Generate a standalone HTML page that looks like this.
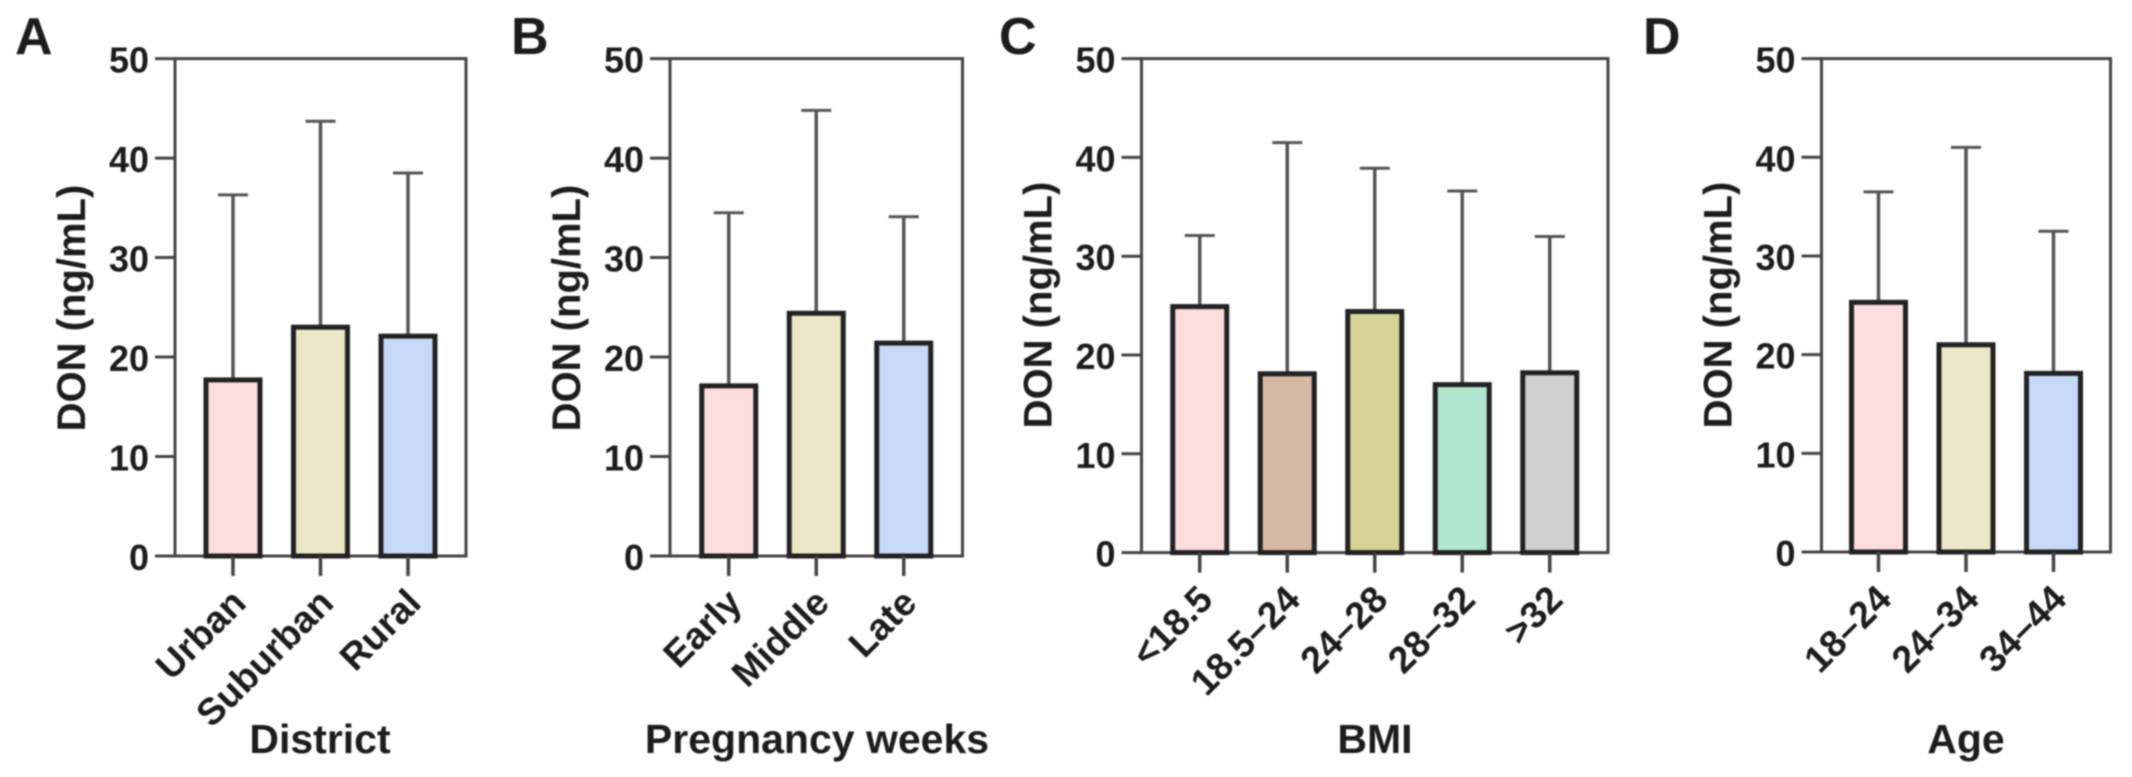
<!DOCTYPE html>
<html lang="en">
<head>
<meta charset="utf-8">
<title>DON by group</title>
<style>
html,body{margin:0;padding:0;background:#fff;width:2132px;height:777px;overflow:hidden}
svg{display:block;filter:blur(0.9px)}
text{font-family:"Liberation Sans",Arial,sans-serif;font-weight:bold;fill:#1c1c1c}
</style>
</head>
<body>
<svg id="chart" xmlns="http://www.w3.org/2000/svg" width="2132" height="777" viewBox="0 0 2132 777"></svg>
<script>
var yTickValues = [0, 10, 20, 30, 40, 50];

var districtCategories = ["Urban", "Suburban", "Rural"];
var districtMeans = [17.7, 23.0, 22.1];
var districtUpper = [36.3, 43.7, 38.5];

var weeksCategories = ["Early", "Middle", "Late"];
var weeksMeans = [17.1, 24.4, 21.4];
var weeksUpper = [34.5, 44.8, 34.1];

var bmiCategories = ["<18.5", "18.5–24", "24–28", "28–32", ">32"];
var bmiMeans = [24.9, 18.1, 24.4, 17.0, 18.2];
var bmiUpper = [32.1, 41.5, 38.9, 36.6, 32.0];

var ageCategories = ["18–24", "24–34", "34–44"];
var ageMeans = [25.3, 21.0, 18.1];
var ageUpper = [36.5, 41.0, 32.5];

var threeFills = ["#fddcde", "#ebe6c6", "#c5daf6"];
var fiveFills = ["#fddcde", "#d6b9a2", "#d5d496", "#b3e6d1", "#cfcfcf"];

var svg = document.getElementById('chart');
var NS = 'http://www.w3.org/2000/svg';

function mk(tag, attrs, parent) {
  var el = document.createElementNS(NS, tag);
  for (var k in attrs) el.setAttribute(k, attrs[k]);
  parent.appendChild(el);
  return el;
}

function drawPanel(p, categories, means, upper, fills) {
  var g = mk('g', {}, svg);
  
  

  var y = function (v) { return p.bottom - (v / 50) * (p.bottom - p.top); };
  var step = 87.5;
  var x = function (i) {
    return p.left + ((p.right - p.left) - (categories.length - 1) * step) / 2 + i * step;
  };
  var axisColor = '#444';

  var letter = mk('text', {x: p.letterX, y: 54, 'font-size': 52}, g);
  letter.textContent = p.letter;
  
  

  var frame = mk('rect', {x: p.left, y: p.top, width: p.right - p.left, height: p.bottom - p.top, fill: 'none', stroke: axisColor, 'stroke-width': 3}, g);
  
  

  yTickValues.forEach(function (v) {
    var tick = mk('line', {x1: p.left - 20, x2: p.left, y1: y(v), y2: y(v), stroke: axisColor, 'stroke-width': 3}, g);
    
    
    var lab = mk('text', {x: p.left - 26, y: y(v) + 14, 'font-size': 36, 'text-anchor': 'end'}, g);
    lab.textContent = v;
    
    
  });

  var yTitle = mk('text', {transform: 'translate(' + (p.left - 90) + ',' + p.yTitleY + ') rotate(-90)', 'font-size': 40, 'text-anchor': 'middle'}, g);
  yTitle.textContent = 'DON (ng/mL)';
  
  

  categories.forEach(function (c, i) {
    var cx = x(i);
    var err = mk('line', {x1: cx, x2: cx, y1: y(means[i]), y2: y(upper[i]), stroke: '#555', 'stroke-width': 3.5}, g);
    
    
    var cap = mk('line', {x1: cx - 15, x2: cx + 15, y1: y(upper[i]), y2: y(upper[i]), stroke: '#555', 'stroke-width': 3}, g);
    
    
    var bar = mk('rect', {x: cx - 27, y: y(means[i]), width: 54, height: p.bottom - y(means[i]), fill: fills[i], stroke: '#222', 'stroke-width': 5}, g);
    
    
    var xt = mk('line', {x1: cx, x2: cx, y1: p.bottom, y2: p.bottom + 20, stroke: axisColor, 'stroke-width': 3.5}, g);
    
    
    var xl = mk('text', {transform: 'translate(' + (cx + 15) + ',' + (p.bottom + 49) + ') rotate(-45)', 'font-size': 37.5, 'text-anchor': 'end'}, g);
    xl.textContent = c;
    
    
  });

  var xTitle = mk('text', {x: p.xTitleX, y: 753, 'font-size': 41, 'text-anchor': 'middle'}, g);
  xTitle.textContent = p.xTitle;
  
  
}

drawPanel({id: 'district', letter: 'A', letterX: 15, left: 175, right: 466, top: 58.6, bottom: 556, yTitleY: 308, xTitle: 'District', xTitleX: 320}, districtCategories, districtMeans, districtUpper, threeFills);
drawPanel({id: 'pregnancy-weeks', letter: 'B', letterX: 511, left: 670, right: 962.5, top: 58.6, bottom: 556, yTitleY: 308, xTitle: 'Pregnancy weeks', xTitleX: 817}, weeksCategories, weeksMeans, weeksUpper, threeFills);
drawPanel({id: 'bmi', letter: 'C', letterX: 999, left: 1141.5, right: 1608, top: 58.6, bottom: 552.6, yTitleY: 305, xTitle: 'BMI', xTitleX: 1375}, bmiCategories, bmiMeans, bmiUpper, fiveFills);
drawPanel({id: 'age', letter: 'D', letterX: 1643, left: 1821.5, right: 2110.5, top: 58.6, bottom: 552, yTitleY: 305, xTitle: 'Age', xTitleX: 1966}, ageCategories, ageMeans, ageUpper, threeFills);
</script>
</body>
</html>
